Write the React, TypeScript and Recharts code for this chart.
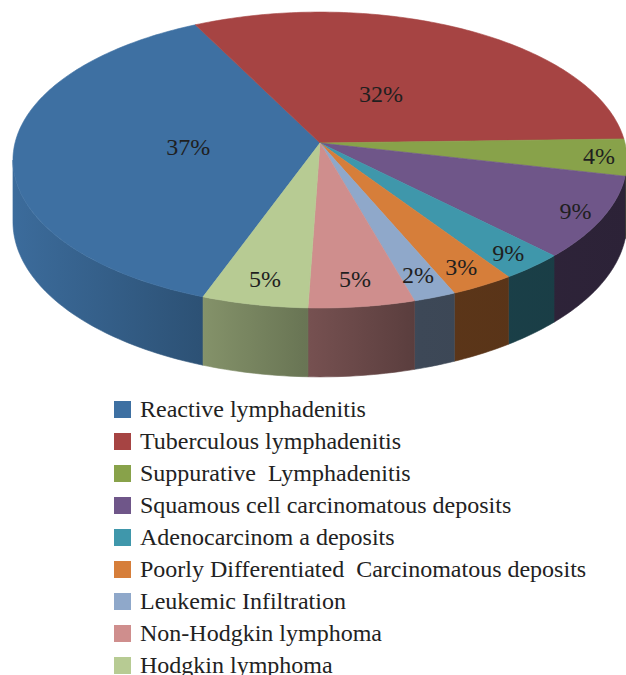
import React from "react";
import { PieChart, Pie, Legend } from "recharts";

// ---- data ----
const categories = [
  "Reactive lymphadenitis",
  "Tuberculous lymphadenitis",
  "Suppurative  Lymphadenitis",
  "Squamous cell carcinomatous deposits",
  "Adenocarcinom a deposits",
  "Poorly Differentiated  Carcinomatous deposits",
  "Leukemic Infiltration",
  "Non-Hodgkin lymphoma",
  "Hodgkin lymphoma",
];
const shares = [37, 32, 4, 9, 3, 3, 2, 5, 5];
const labelTexts = ["37%", "32%", "4%", "9%", "9%", "3%", "2%", "5%", "5%"];
const colors = [
  "#3e70a2",
  "#a64443",
  "#88a24a",
  "#6f5689",
  "#3f97ab",
  "#d67e3a",
  "#8fa8ca",
  "#cf8e8d",
  "#b7cb93",
];

const data = categories.map((name, i) => ({
  name,
  value: shares[i],
  label: labelTexts[i],
  color: colors[i],
}));

// ---- 3D projection helpers ----
const PERSP = 0.115; // perspective strength
const TILT = 146 / 305; // vertical squash of the disc
const DEPTH = 61 / 305; // thickness of the pie relative to radius
const LABEL_INSET = 28; // px inside the rim for small-slice labels
const BIG_LABEL_RATIO = 0.43; // fraction of the centre→rim distance for big-slice labels
const FONT = '"Liberation Serif", "Times New Roman", serif';

function proj(cx: number, cy: number, R: number, ang: number, r: number, down: boolean) {
  const t = (ang * Math.PI) / 180;
  const u = r * Math.cos(t);
  const v = -r * Math.sin(t);
  const w = 1 - PERSP * v;
  return [cx + (R * u) / w, cy + (R * TILT * v) / w + (down ? (R * DEPTH) / w : 0)];
}

function arcPoints(cx: number, cy: number, R: number, a0: number, a1: number, down: boolean) {
  const n = Math.max(2, Math.ceil(Math.abs(a1 - a0) / 1));
  const pts: number[][] = [];
  for (let k = 0; k <= n; k++) {
    const a = a0 + ((a1 - a0) * k) / n;
    pts.push(proj(cx, cy, R, a, 1, down));
  }
  return pts;
}

function hexToRgb(h: string) {
  const n = parseInt(h.slice(1), 16);
  return [(n >> 16) & 255, (n >> 8) & 255, n & 255];
}
function shade(h: string, f: number) {
  const [r, g, b] = hexToRgb(h);
  return `rgb(${Math.round(r * f)},${Math.round(g * f)},${Math.round(b * f)})`;
}

const wallStops = [
  [0, 0.96],
  [0.3, 0.73],
  [0.47, 0.58],
  [0.66, 0.43],
  [1, 0.4],
];

const renderSolid = (props: any) => {
  const { cx, cy, outerRadius, startAngle, endAngle, index } = props;
  const color = colors[index];
  const R = outerRadius;
  const lo = Math.min(startAngle, endAngle);
  const hi = Math.max(startAngle, endAngle);
  const frontLo = -180 + (Math.asin(PERSP) * 180) / Math.PI;
  const frontHi = -(Math.asin(PERSP) * 180) / Math.PI;
  const walls: string[] = [];
  for (let k = -1; k <= 1; k++) {
    const a0 = Math.max(lo, frontLo + 360 * k);
    const a1 = Math.min(hi, frontHi + 360 * k);
    if (a1 > a0) {
      const topArc = arcPoints(cx, cy, R, a0, a1, false);
      const botArc = arcPoints(cx, cy, R, a1, a0, true);
      const pts = topArc.concat(botArc);
      walls.push(
        "M" + pts.map((p) => `${p[0].toFixed(2)},${p[1].toFixed(2)}`).join("L") + "Z"
      );
    }
  }
  const top = arcPoints(cx, cy, R, startAngle, endAngle, false);
  const topPath =
    `M${cx},${cy}L` + top.map((p) => `${p[0].toFixed(2)},${p[1].toFixed(2)}`).join("L") + "Z";
  const gid = `wallgrad-${index}`;
  return (
    <g key={`solid-${index}`}>
      <defs>
        <linearGradient id={gid} gradientUnits="userSpaceOnUse" x1={10} y1={0} x2={630} y2={0}>
          {wallStops.map(([o, f], i) => (
            <stop key={i} offset={o} stopColor={shade(color, f)} />
          ))}
        </linearGradient>
      </defs>
      {walls.map((d, i) => (
        <path key={i} d={d} fill={`url(#${gid})`} stroke={`url(#${gid})`} strokeWidth={0.6} />
      ))}
      <path d={topPath} fill={color} stroke={color} strokeWidth={0.6} />
    </g>
  );
};

const renderText = (props: any) => {
  const { cx, cy, outerRadius, midAngle, index, percent } = props;
  const [rx, ry] = proj(cx, cy, outerRadius, midAngle, 1, false);
  const dx = rx - cx;
  const dy = ry - cy;
  const len = Math.sqrt(dx * dx + dy * dy) || 1;
  let x: number;
  let y: number;
  if (percent > 0.3) {
    x = cx + dx * BIG_LABEL_RATIO;
    y = cy + dy * BIG_LABEL_RATIO;
  } else {
    x = rx - (dx / len) * LABEL_INSET;
    y = ry - (dy / len) * LABEL_INSET;
  }
  return (
    <text
      key={`lbl-${index}`}
      x={x}
      y={y}
      textAnchor="middle"
      dominantBaseline="central"
      fontFamily={FONT}
      fontSize={24}
      fill="#1f1f1f"
    >
      {labelTexts[index]}
    </text>
  );
};

const renderLegend = (props: any) => {
  const payload: any[] = props && Array.isArray(props.payload) ? props.payload : [];
  const seen = new Set<string>();
  const fromPayload = payload
    .map((p: any) => String(p.value))
    .filter((v) => categories.indexOf(v) >= 0 && !seen.has(v) && (seen.add(v), true))
    .sort((a, b) => categories.indexOf(a) - categories.indexOf(b));
  const names = fromPayload.length ? fromPayload : categories;
  return (
    <div style={{ fontFamily: FONT, fontSize: 24, color: "#222", margin: 0, padding: 0 }}>
      {names.map((name: string) => {
        const i = categories.indexOf(name);
        return (
          <div
            key={name}
            style={{
              height: 32,
              lineHeight: "32px",
              display: "flex",
              alignItems: "center",
              whiteSpace: "pre",
            }}
          >
            <span
              style={{
                width: 17,
                height: 17,
                background: colors[i],
                marginRight: 9,
                flex: "none",
                display: "inline-block",
              }}
            />
            <span>{name}</span>
          </div>
        );
      })}
    </div>
  );
};

export default function App() {
  return (
    <div style={{ position: "absolute", left: 0, top: 0, width: 626, height: 675, overflow: "hidden", background: "#fff" }}>
      <PieChart width={626} height={675} margin={{ top: 0, right: 0, bottom: 0, left: 0 }}>
        <Pie
          data={data}
          dataKey="value"
          nameKey="name"
          cx={320}
          cy={143}
          outerRadius={305}
          startAngle={250}
          endAngle={-110}
          fill="none"
          stroke="none"
          label={renderSolid}
          labelLine={false}
          legendType="none"
          isAnimationActive={false}
        />
        <Pie
          data={data}
          dataKey="value"
          nameKey="name"
          cx={320}
          cy={143}
          outerRadius={305}
          startAngle={250}
          endAngle={-110}
          fill="none"
          stroke="none"
          label={renderText}
          labelLine={false}
          legendType="square"
          isAnimationActive={false}
        />
        <Legend
          content={renderLegend}
          wrapperStyle={{ position: "absolute", top: 393, left: 114, bottom: "auto", right: "auto", width: 512, margin: 0 }}
        />
      </PieChart>
    </div>
  );
}
